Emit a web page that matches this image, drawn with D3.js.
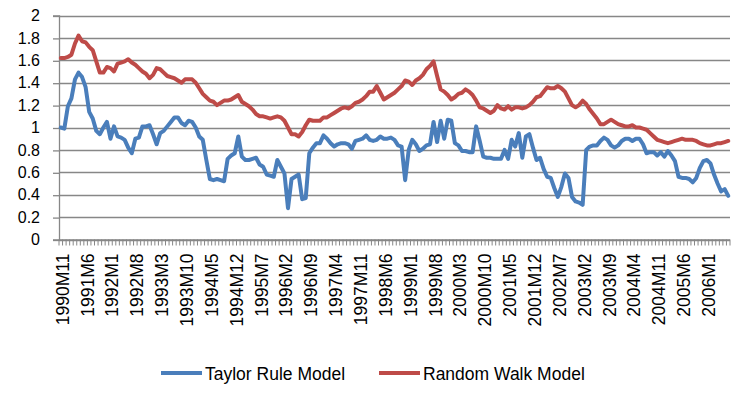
<!DOCTYPE html>
<html>
<head>
<meta charset="utf-8">
<script src="https://cdn.jsdelivr.net/npm/d3@7"></script>
<style>
  html, body { margin: 0; padding: 0; background: #fff; }
  svg { display: block; }
  text { font-family: "Liberation Sans", Arial, sans-serif; fill: #000; }
</style>
</head>
<body>
<svg id="chart" width="744" height="396"></svg>
<script>
// ---- data ----
const startYear = 1990, startMonth = 11, monthCount = 189;
const categories = [];
for (let k = 0; k < monthCount; k++) {
  const m = startMonth - 1 + k;
  categories.push((startYear + Math.floor(m / 12)) + "M" + ((m % 12) + 1));
}
const tickLabels = ["1990M11","1991M6","1992M1","1992M8","1993M3","1993M10","1994M5","1994M12",
  "1995M7","1996M2","1996M9","1997M4","1997M11","1998M6","1999M1","1999M8","2000M3","2000M10",
  "2001M5","2001M12","2002M7","2003M2","2003M9","2004M4","2004M11","2005M6","2006M1"];
const yTicks = [0, 0.2, 0.4, 0.6, 0.8, 1, 1.2, 1.4, 1.6, 1.8, 2];
const yTickLabels = ["0","0.2","0.4","0.6","0.8","1","1.2","1.4","1.6","1.8","2"];
const seriesNames = ["Taylor Rule Model", "Random Walk Model"];

const taylorRule = [
  1.00,0.99,1.19,1.26,1.43,1.49,1.45,1.36,1.14,1.08,
  0.97,0.94,1.00,1.05,0.90,1.01,0.92,0.91,0.89,0.82,
  0.77,0.90,0.91,1.01,1.01,1.02,0.94,0.85,0.95,0.97,
  1.01,1.05,1.09,1.09,1.04,1.02,1.06,1.05,1.00,0.92,
  0.89,0.71,0.54,0.53,0.54,0.53,0.52,0.72,0.75,0.77,
  0.92,0.74,0.71,0.71,0.72,0.73,0.67,0.65,0.58,0.57,
  0.56,0.71,0.65,0.59,0.28,0.54,0.56,0.58,0.36,0.37,
  0.77,0.82,0.86,0.86,0.93,0.90,0.86,0.83,0.85,0.86,
  0.86,0.85,0.81,0.88,0.89,0.90,0.93,0.89,0.88,0.89,
  0.92,0.90,0.90,0.91,0.89,0.84,0.83,0.53,0.80,0.89,
  0.85,0.79,0.81,0.84,0.85,1.05,0.87,1.06,0.90,1.07,
  1.06,0.86,0.84,0.79,0.79,0.78,0.78,1.01,0.88,0.74,
  0.73,0.73,0.72,0.72,0.72,0.80,0.72,0.89,0.83,0.95,
  0.73,0.92,0.94,0.82,0.71,0.73,0.63,0.56,0.55,0.46,
  0.38,0.47,0.59,0.55,0.38,0.34,0.33,0.31,0.80,0.83,
  0.84,0.84,0.88,0.91,0.89,0.84,0.82,0.84,0.88,0.90,
  0.90,0.88,0.90,0.90,0.85,0.77,0.78,0.78,0.75,0.78,
  0.74,0.79,0.75,0.70,0.56,0.55,0.55,0.54,0.51,0.55,
  0.64,0.70,0.71,0.68,0.58,0.50,0.43,0.45,0.39
];
const randomWalk = [
  1.62,1.62,1.63,1.65,1.75,1.82,1.77,1.76,1.72,1.69,
  1.59,1.49,1.49,1.54,1.53,1.50,1.57,1.58,1.59,1.61,
  1.58,1.56,1.53,1.50,1.48,1.44,1.47,1.53,1.52,1.49,
  1.46,1.45,1.44,1.42,1.40,1.43,1.43,1.43,1.40,1.35,
  1.30,1.27,1.24,1.23,1.20,1.22,1.24,1.24,1.25,1.27,
  1.29,1.23,1.21,1.19,1.16,1.12,1.10,1.10,1.09,1.08,
  1.09,1.10,1.09,1.06,1.00,0.94,0.94,0.92,0.96,1.02,
  1.07,1.06,1.06,1.06,1.09,1.09,1.11,1.13,1.15,1.17,
  1.18,1.17,1.19,1.22,1.23,1.25,1.28,1.32,1.32,1.37,
  1.31,1.25,1.27,1.29,1.31,1.34,1.37,1.42,1.41,1.38,
  1.42,1.44,1.47,1.52,1.55,1.59,1.46,1.34,1.32,1.29,
  1.25,1.27,1.30,1.31,1.34,1.32,1.29,1.24,1.18,1.17,
  1.15,1.13,1.15,1.20,1.17,1.16,1.19,1.16,1.18,1.18,
  1.17,1.18,1.20,1.23,1.27,1.28,1.32,1.36,1.35,1.35,
  1.37,1.35,1.32,1.26,1.20,1.18,1.20,1.24,1.21,1.16,
  1.12,1.08,1.03,1.03,1.05,1.07,1.05,1.03,1.02,1.01,
  1.01,1.02,1.00,1.00,0.99,0.98,0.95,0.92,0.89,0.88,
  0.87,0.86,0.87,0.88,0.89,0.90,0.89,0.89,0.89,0.88,
  0.86,0.85,0.84,0.84,0.85,0.86,0.86,0.87,0.88
];

// ---- layout ----
const plot = { left: 59, right: 730, top: 15.5, bottom: 239.5 };
const colors = ["#4A7EBB", "#BE4B48"];
const gridColor = "#878787";

const svg = d3.select("#chart");
const x = d3.scaleBand().domain(categories).range([plot.left, plot.right]).paddingInner(0).paddingOuter(0);
const y = d3.scaleLinear().domain([0, 2]).range([plot.bottom, plot.top]);
const cx = c => x(c) + x.bandwidth() / 2;

// gridlines
svg.append("g").selectAll("line").data(yTicks).join("line")
  .attr("x1", plot.left).attr("x2", plot.right)
  .attr("y1", d => Math.round(y(d)) + 0.5).attr("y2", d => Math.round(y(d)) + 0.5)
  .attr("stroke", gridColor).attr("stroke-width", 1.3);

// y axis
const yAxis = d3.axisLeft(y).tickValues(yTicks).tickSize(6).tickPadding(13)
  .tickFormat((d, i) => yTickLabels[i]);
const gy = svg.append("g").attr("transform", `translate(${plot.left},0)`).call(yAxis);
gy.select(".domain").attr("stroke", gridColor).attr("stroke-width", 1.3);
gy.selectAll(".tick line").attr("stroke", gridColor).attr("stroke-width", 1.3)
  .attr("transform", "translate(0,0.5)");
gy.selectAll(".tick text").attr("font-size", 16).attr("font-family", "Liberation Sans, Arial, sans-serif")
  .attr("fill", "#000");

// x axis: line + ticks at category boundaries
const gx = svg.append("g");
gx.append("line").attr("x1", plot.left).attr("x2", plot.right)
  .attr("y1", plot.bottom + 0.5).attr("y2", plot.bottom + 0.5)
  .attr("stroke", gridColor).attr("stroke-width", 1.3);
const bounds = categories.map(c => x(c)).concat([plot.right]);
gx.selectAll("line.tk").data(bounds).join("line").attr("class", "tk")
  .attr("x1", d => d).attr("x2", d => d)
  .attr("y1", plot.bottom).attr("y2", plot.bottom + 6)
  .attr("stroke", gridColor).attr("stroke-width", 1);
gx.selectAll("text").data(tickLabels).join("text")
  .attr("transform", d => `translate(${cx(d) + 8},${plot.bottom + 14}) rotate(-90)`)
  .attr("text-anchor", "end")
  .attr("font-size", 17.5)
  .text(d => d);

// lines
const line = d3.line().x((d, i) => cx(categories[i])).y(d => y(d)).curve(d3.curveLinear);
[taylorRule, randomWalk].forEach((s, k) => {
  svg.append("path").datum(s).attr("d", line)
    .attr("fill", "none").attr("stroke", colors[k]).attr("stroke-width", 4)
    .attr("stroke-linejoin", "round").attr("stroke-linecap", "round");
});

// legend
const legendItems = [{ x: 161, name: seriesNames[0], color: colors[0] },
                     { x: 379, name: seriesNames[1], color: colors[1] }];
const lg = svg.append("g");
legendItems.forEach(it => {
  lg.append("line").attr("x1", it.x).attr("x2", it.x + 41).attr("y1", 373).attr("y2", 373)
    .attr("stroke", it.color).attr("stroke-width", 4);
  lg.append("text").attr("x", it.x + 44).attr("y", 379.5).attr("font-size", 17.5).text(it.name);
});
</script>
</body>
</html>
